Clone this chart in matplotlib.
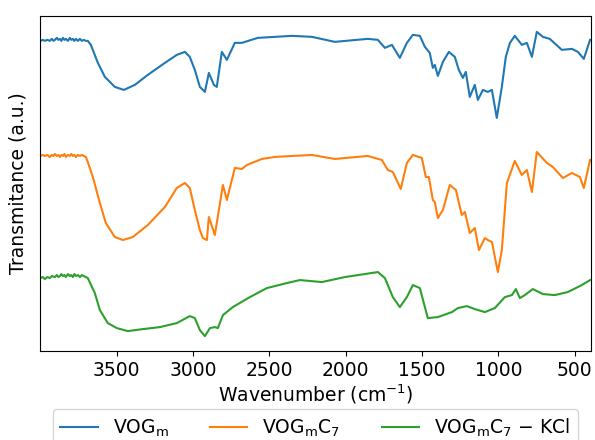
"""FTIR spectra of VOGm, VOGmC7 and VOGmC7-KCl, stacked."""

import matplotlib
matplotlib.use("Agg")
import matplotlib.pyplot as plt

# Wavenumber (cm-1) and stacked transmittance (a.u.)
wn_vogm = [4000, 3985, 3971, 3955, 3939, 3925, 3915, 3906, 3893, 3883, 3873, 3863,
           3853, 3843, 3834, 3820, 3808, 3798, 3788, 3778, 3768, 3755, 3742, 3729,
           3716, 3703, 3690, 3670, 3624, 3578, 3513, 3454, 3382, 3297, 3185,
           3107, 3054, 3022, 2989, 2956, 2923, 2897, 2864, 2845, 2812, 2779, 2727,
           2681, 2576, 2465, 2353, 2222, 2072, 1856, 1790, 1744, 1698, 1646, 1600,
           1561, 1515, 1482, 1450, 1430, 1417, 1397, 1364, 1325, 1286, 1260, 1233,
           1214, 1188, 1155, 1135, 1102, 1070, 1043, 1011, 978, 952, 925, 893, 847,
           814, 781, 749, 709, 664, 585, 519, 480, 441, 400]
tr_vogm = [310, 311, 310, 311, 310, 312, 310, 311, 313, 311, 312, 310,
           313, 311, 312, 310, 313, 311, 312, 310, 312, 310, 312, 310,
           311, 310, 310, 306, 288, 274, 264, 261, 266, 276, 288,
           296, 299, 294, 281, 264, 259, 278, 266, 264, 299, 291, 308,
           308, 313, 314, 315, 314, 309, 312, 311, 303, 306, 293, 308,
           316, 315, 304, 298, 283, 286, 275, 289, 299, 294, 281, 273,
           279, 254, 266, 251, 261, 259, 261, 233, 264, 294, 308, 315, 306,
           308, 294, 319, 314, 312, 301, 302, 299, 292, 311]

wn_vogmc7 = [4000, 3985, 3971, 3955, 3939, 3925, 3915, 3906, 3893, 3883, 3873, 3863,
             3853, 3843, 3834, 3820, 3808, 3798, 3788, 3778, 3768, 3755, 3742, 3729,
             3716, 3703, 3690, 3657, 3611, 3572, 3513, 3460, 3395, 3297, 3185,
             3107, 3054, 3022, 2989, 2956, 2936, 2910, 2897, 2858, 2805, 2779, 2727,
             2681, 2648, 2550, 2465, 2353, 2222, 2072, 1856, 1764, 1725, 1692, 1640,
             1600, 1561, 1502, 1476, 1456, 1430, 1417, 1397, 1364, 1319, 1279, 1240,
             1220, 1188, 1155, 1128, 1089, 1070, 1043, 1004, 978, 945, 893, 847, 814,
             781, 749, 683, 644, 578, 519, 467, 441, 400]
tr_vogmc7 = [195, 196, 195, 196, 194, 196, 195, 197, 195, 196, 194, 196,
             195, 197, 194, 196, 195, 197, 195, 196, 194, 196, 195, 196,
             195, 194, 189, 174, 148, 128, 114, 111, 114, 126, 144,
             163, 168, 163, 141, 121, 113, 111, 134, 116, 166, 151, 183,
             182, 186, 192, 194, 195, 196, 192, 195, 191, 181, 179, 162,
             188, 196, 193, 174, 174, 151, 149, 133, 141, 166, 161, 136,
             139, 118, 123, 101, 113, 111, 109, 79, 101, 168, 190, 176, 181,
             159, 199, 188, 184, 173, 178, 174, 163, 191]

wn_kcl = [4000, 3985, 3971, 3955, 3939, 3925, 3906, 3893, 3883, 3873, 3863, 3853,
          3843, 3834, 3820, 3808, 3798, 3788, 3778, 3768, 3755, 3742, 3729, 3716,
          3703, 3690, 3644, 3611, 3559, 3500, 3428, 3329, 3218, 3107, 3022, 2989,
          2956, 2923, 2890, 2858, 2838, 2805, 2740, 2628, 2517, 2386, 2301, 2157,
          2006, 1790, 1744, 1692, 1646, 1600, 1561, 1515, 1482, 1463, 1397, 1305,
          1266, 1207, 1155, 1089, 1024, 958, 912, 886, 860, 827, 775, 709, 631,
          546, 454, 400]
tr_kcl = [73, 74, 72, 74, 73, 75, 74, 76, 74, 75, 77, 75,
          76, 74, 77, 75, 76, 74, 77, 75, 76, 74, 76, 75,
          74, 73, 58, 41, 28, 23, 20, 22, 24, 28, 35, 33,
          21, 15, 23, 24, 23, 36, 44, 54, 63, 68, 71, 69,
          74, 79, 73, 54, 44, 54, 66, 63, 44, 33, 34, 39,
          43, 45, 42, 39, 43, 54, 56, 62, 53, 56, 62, 57, 56,
          59, 66, 71]

labels = [r"$VOG_m$", r"$VOG_mC_7$", "$VOG_mC_7$ \u2212 KCl"]

plt.rcParams["font.size"] = 13.5
plt.rcParams["mathtext.default"] = "regular"

fig = plt.figure(figsize=(5.95, 4.4), dpi=100)
ax = fig.add_axes([0.067, 0.202, 0.926, 0.762])

ax.plot(wn_vogm, tr_vogm, color="tab:blue", lw=1.5, label=labels[0])
ax.plot(wn_vogmc7, tr_vogmc7, color="tab:orange", lw=1.5, label=labels[1])
ax.plot(wn_kcl, tr_kcl, color="tab:green", lw=1.5, label=labels[2])

ax.set_xlim(4004, 395)
ax.set_ylim(0, 335)
ax.set_xticks([3500, 3000, 2500, 2000, 1500, 1000, 500])
ax.set_yticks([])
ax.set_xlabel(r"Wavenumber (cm$^{-1}$)", labelpad=2)
ax.set_ylabel("Transmitance (a.u.)", labelpad=9)

ax.legend(loc="upper center", bbox_to_anchor=(0.5, -0.145), ncol=3,
          frameon=True, columnspacing=2.2)

fig.savefig("out.png", dpi=100)
